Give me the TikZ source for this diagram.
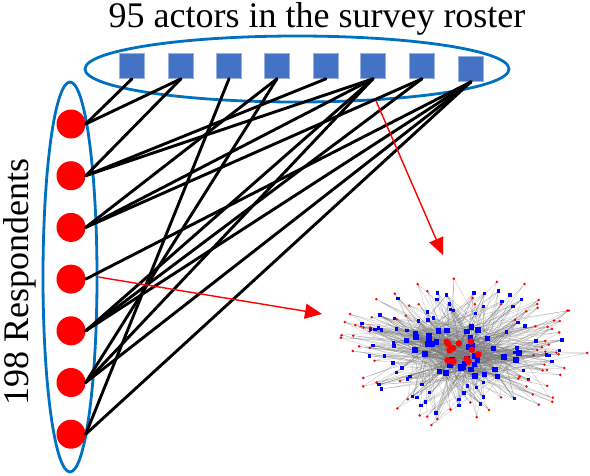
\documentclass[tikz,border=0pt]{standalone}
\usepackage{fontspec}
\setmainfont{Liberation Serif}
\usetikzlibrary{shapes.geometric,arrows.meta}
\definecolor{ovalblue}{RGB}{0,112,192}
\definecolor{actorblue}{RGB}{68,114,196}

\begin{document}
\begin{tikzpicture}[x=1pt,y=-1pt,
    actor/.style={rectangle,fill=actorblue,draw=actorblue!55,line width=0.6pt,minimum size=25pt,inner sep=0pt},
    person/.style={circle,fill=red,minimum size=29pt,inner sep=0pt},
    oval/.style={ellipse,draw=ovalblue,line width=2.8pt,inner sep=0pt},
    tie/.style={black,line width=2.9pt,line cap=round},
    pointer/.style={red,line width=1.4pt,-{Triangle[length=17pt,width=15pt]}},
    netedge/.style={black!55,line width=0.25pt,opacity=0.55},
    netsq/.style={rectangle,fill=blue,inner sep=0pt},
    big/.style={font=\fontsize{36}{40}\selectfont}]
    \useasboundingbox (0,0) rectangle (590,475);

    \node[oval,minimum width=424pt,minimum height=66pt] (roster) at (297,69) {};
    \node[oval,minimum width=54pt,minimum height=390pt] (resp) at (70,277) {};
    \node[big,anchor=base] (title) at (317,27) {95 actors in the survey roster};
    \node[big,anchor=base,rotate=90] (side) at (28,282) {198 Respondents};

    % roster actors and respondents
    \foreach \x/\y [count=\i] in {132/66,181/66,229/66,277/66,326/66,373/66,422/66,471/69}
        \node[actor] (s\i) at (\x,\y) {};
    \foreach \i in {1,...,7}
        \node[person] (c\i) at (71,{124+51.7*(\i-1)}) {};

    \foreach \a/\b in {1/1,1/2,2/2,2/5,2/6,3/4,3/6,3/7,4/8,5/6,5/7,5/8,6/4,6/6,6/8,7/3,7/8}
        \draw[tie] (c\a.east) -- (s\b.south);

    % resulting network
    \pgfmathsetseed{11}
    \foreach \k in {1,...,55}{
        \pgfmathsetmacro{\ang}{360*rnd}
        \pgfmathsetmacro{\rad}{(0.52-0.32*(\k<15))*sqrt(rnd)}
        \coordinate (n\k) at ({460+125*\rad*cos(\ang)},{352+62*\rad*sin(\ang)});
    }
    \foreach \k in {56,...,125}{
        \pgfmathsetmacro{\ang}{360*rnd}
        \pgfmathsetmacro{\rad}{0.45+0.4*rnd}
        \coordinate (n\k) at ({457+128*\rad*cos(\ang)},{350+76*\rad*sin(\ang)});
    }
    \foreach \k in {126,...,205}{
        \pgfmathsetmacro{\ang}{360*rnd}
        \pgfmathsetmacro{\rad}{0.6+0.42*rnd}
        \coordinate (n\k) at ({457+128*\rad*cos(\ang)},{350+76*\rad*sin(\ang)});
    }
    \foreach \k in {56,...,205}{
        \pgfmathrandominteger{\a}{1}{55}
        \pgfmathrandominteger{\b}{1}{55}
        \pgfmathrandominteger{\c}{1}{55}
        \draw[netedge] (n\k) -- (n\a) (n\k) -- (n\b) (n\k) -- (n\c);
    }
    \foreach \k in {1,...,55}{
        \foreach \j in {1,...,8}{
            \pgfmathrandominteger{\a}{1}{90}
            \draw[netedge] (n\k) -- (n\a);
        }
    }
    \foreach \k in {56,...,125}
        \node[netsq,minimum size=3.5pt] (m\k) at (n\k) {};
    \foreach \k in {126,...,205}
        \fill[red] (n\k) circle[radius=1.4];
    \foreach \k in {15,...,55}
        \node[netsq,minimum size=5.5pt] (m\k) at (n\k) {};
    \foreach \k in {1,...,14}
        \fill[red] (n\k) circle[radius=3.3];

    \coordinate (netA) at (443,255);
    \coordinate (netB) at (322,314);
    \draw[pointer] (roster.-22) -- (netA);
    \draw[pointer] (resp.east) -- (netB);
\end{tikzpicture}
\end{document}
